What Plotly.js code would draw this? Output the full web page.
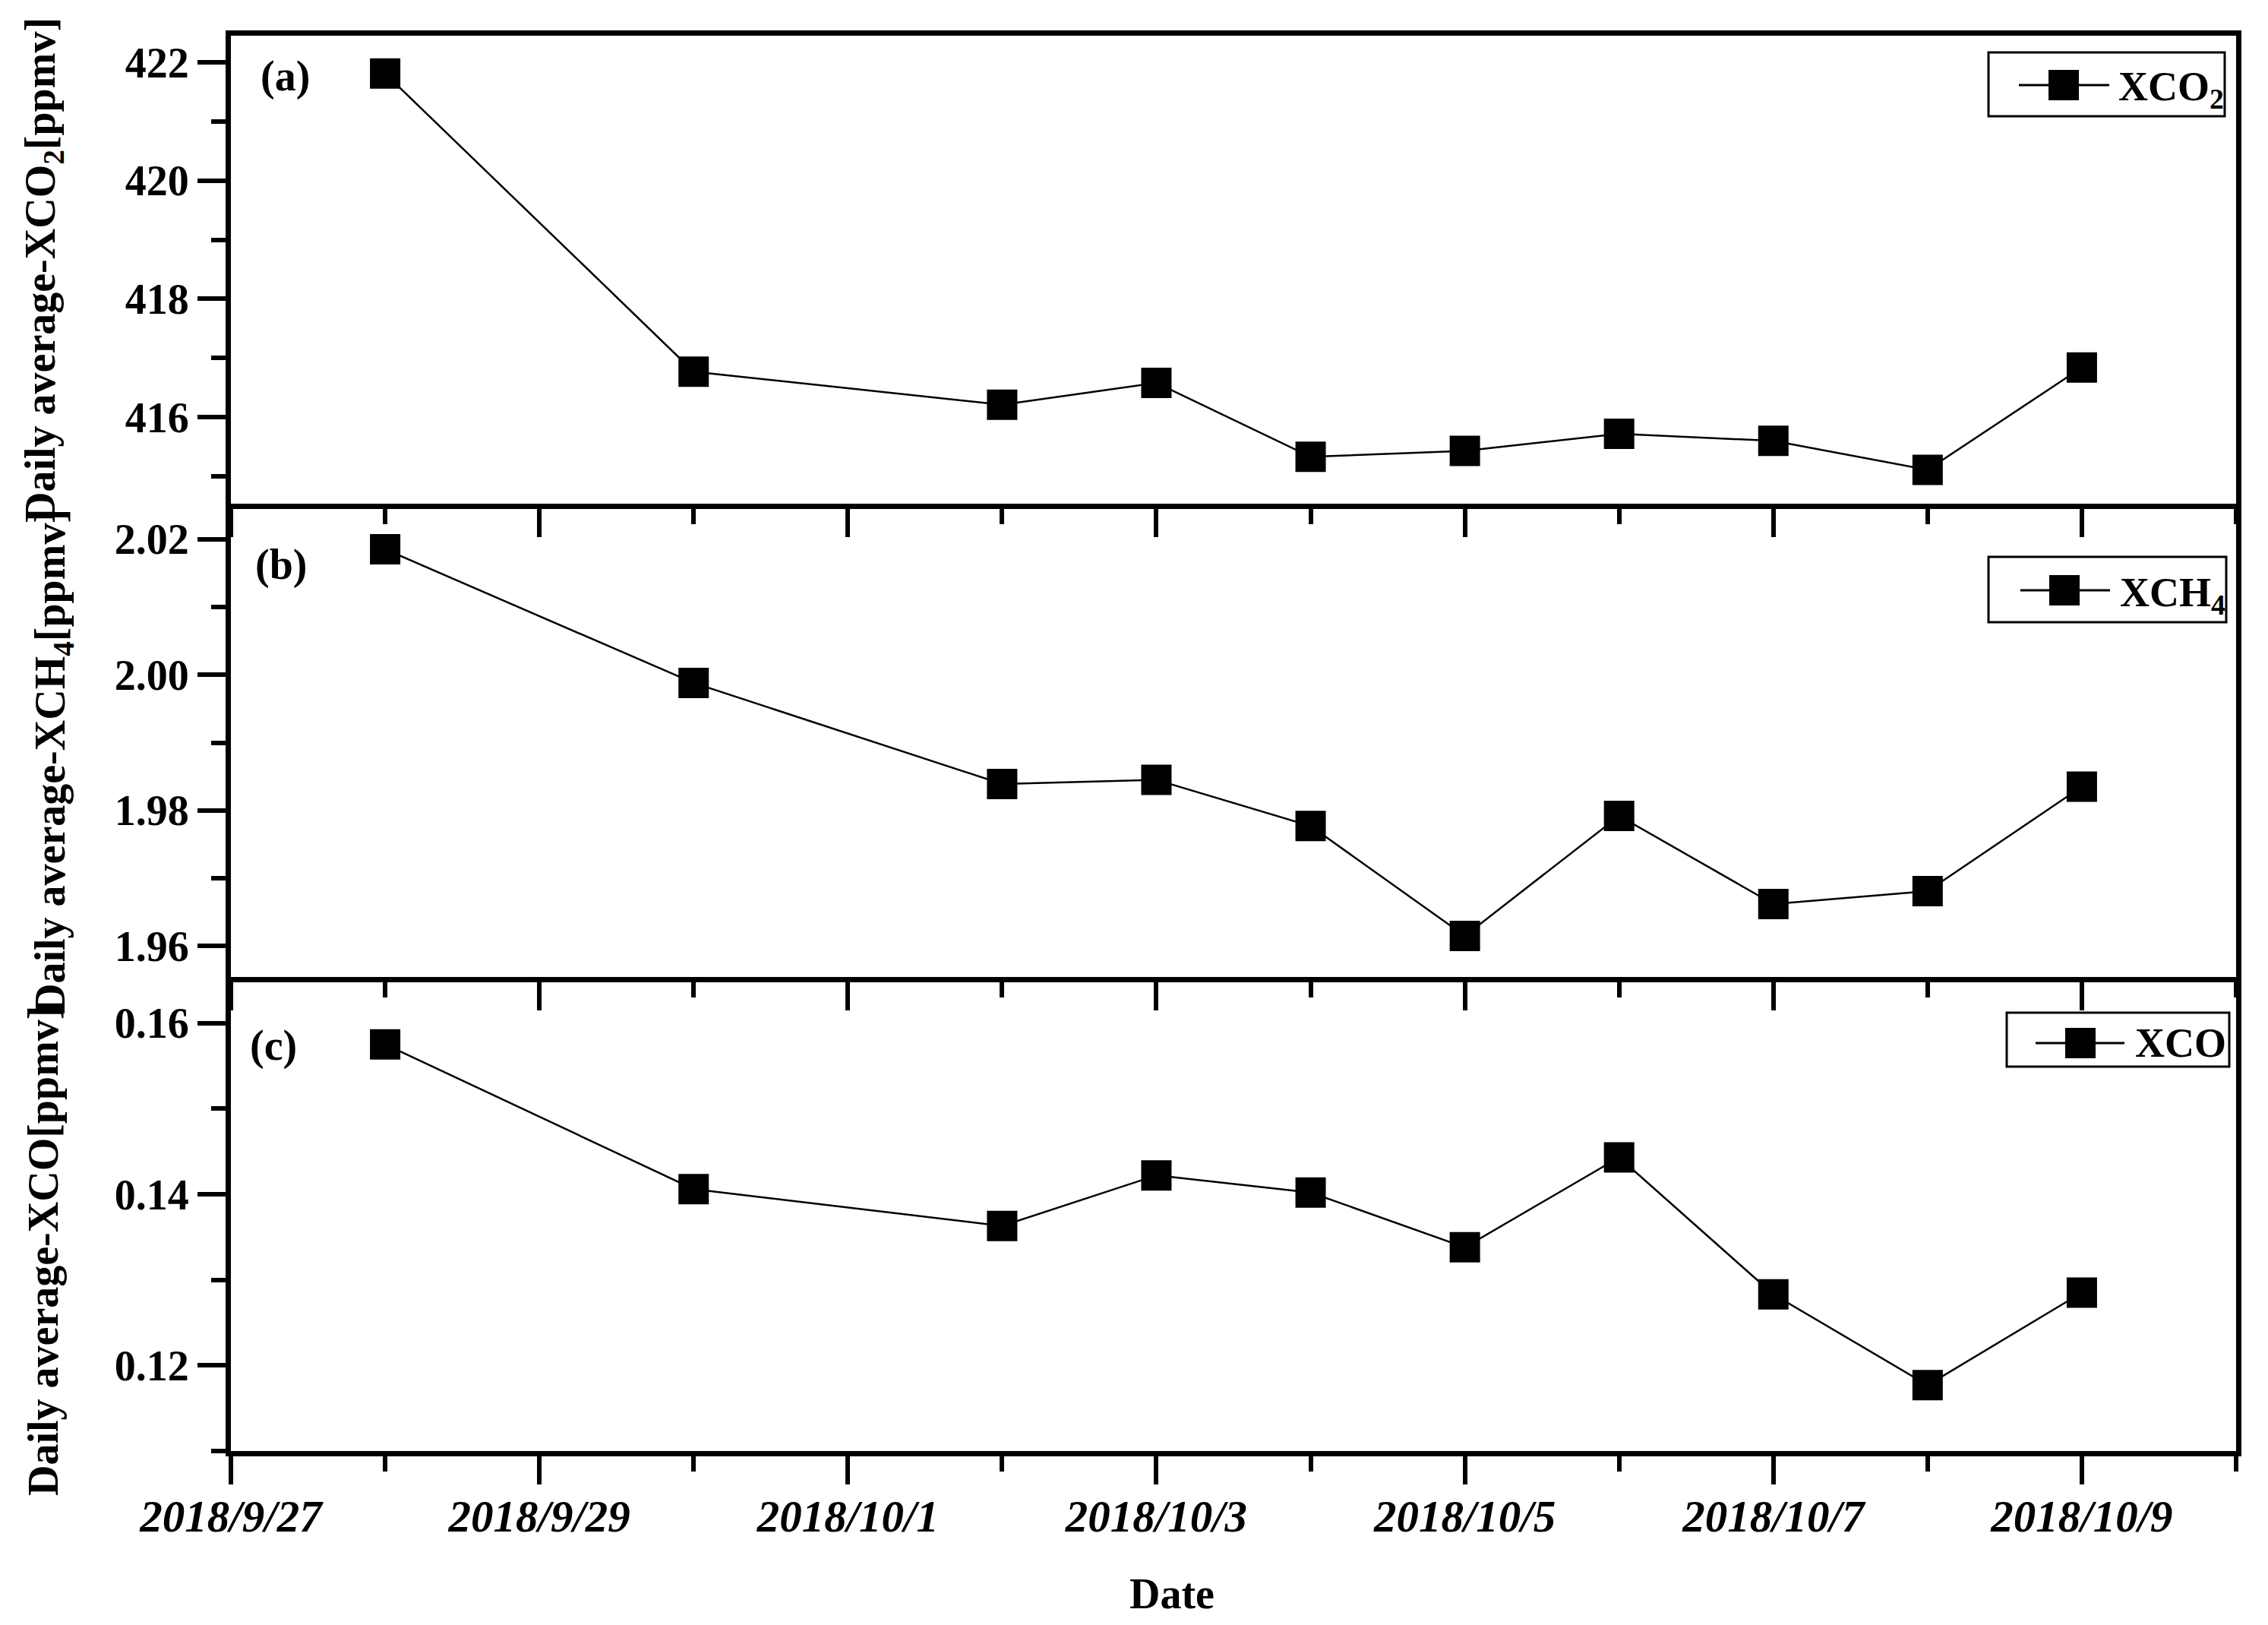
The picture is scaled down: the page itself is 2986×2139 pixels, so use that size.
<!DOCTYPE html>
<html><head><meta charset="utf-8">
<script src="https://cdn.plot.ly/plotly-3.0.1.min.js"></script>
<style>html,body{margin:0;padding:0;background:#fff;} #chart{width:2986px;height:2139px;}</style>
</head><body><div id="chart"></div>
<script>
// ---------- data ----------
const dates = ['2018-09-28','2018-09-30','2018-10-02','2018-10-03','2018-10-04','2018-10-05','2018-10-06','2018-10-07','2018-10-08','2018-10-09'];
const xco2 = [421.81, 416.77, 416.21, 416.58, 415.33, 415.43, 415.72, 415.60, 415.11, 416.84];
const xch4 = [2.0185, 1.9988, 1.9839, 1.9845, 1.9777, 1.9615, 1.9792, 1.9662, 1.9681, 1.9835];
const xco  = [0.1575, 0.1406, 0.1363, 0.1422, 0.1402, 0.1338, 0.1443, 0.1283, 0.1177, 0.1285];
const seriesNames = ['XCO<sub>2</sub>', 'XCH<sub>4</sub>', 'XCO'];
const panelLabels = ['(a)', '(b)', '(c)'];
const yTitles = ['Daily average-XCO<sub>2</sub>[ppmv]', 'Daily average-XCH<sub>4</sub>[ppmv]', 'Daily average-XCO[ppmv]'];
const xTitle = 'Date';

// ---------- layout geometry ----------
const W = 2986, H = 2139, ML = 304, MR = 42, MT = 47, MB = 229;
const PW = W - ML - MR, PH = H - MT - MB;
const px = x => (x - ML) / PW;           // pixel -> paper x
const py = y => (H - MB - y) / PH;       // pixel -> paper y
const FONT = 'Liberation Serif, Times New Roman, serif';
const DAY = 86400000;

const domains = [[py(662.5), 1], [py(1285.5), py(669.5)], [0, py(1292.5)]];
const yRanges = [[414.544, 422.45], [1.9555, 2.0245], [0.11, 0.1648]];
const yTick0 = [416, 1.96, 0.12];
const yDtick = [2, 0.02, 0.02];
const yMinor = [1, 0.01, 0.01];
const yFormat = ['d', '.2f', '.2f'];

const series = [xco2, xch4, xco];
const traces = series.map((s, i) => ({
  type: 'scatter', mode: 'lines+markers', x: dates, y: s,
  name: seriesNames[i], showlegend: false,
  xaxis: i === 0 ? 'x' : 'x' + (i + 1), yaxis: i === 0 ? 'y' : 'y' + (i + 1),
  line: {color: '#000', width: 2.5},
  marker: {symbol: 'square', size: 40, color: '#000', line: {width: 0}},
  cliponaxis: false
}));

const layout = {
  width: W, height: H, paper_bgcolor: '#fff', plot_bgcolor: '#fff',
  margin: {l: ML, r: MR, t: MT, b: MB, pad: 0},
  font: {family: FONT, color: '#000', size: 56},
  showlegend: false,
  shapes: [], annotations: []
};

for (let i = 0; i < 3; i++) {
  const xs = i === 0 ? 'xaxis' : 'xaxis' + (i + 1);
  const ys = i === 0 ? 'yaxis' : 'yaxis' + (i + 1);
  const yid = i === 0 ? 'y' : 'y' + (i + 1);
  const xid = i === 0 ? 'x' : 'x' + (i + 1);
  layout[xs] = {
    type: 'date', anchor: yid, domain: [0, 1],
    range: ['2018-09-27', '2018-10-10'], tick0: '2018-09-27', dtick: 2 * DAY,
    tickformat: '%Y/%-m/%-d', showticklabels: i === 2,
    tickfont: {family: FONT, size: 59, weight: 'bold', style: 'italic', color: '#000'},
    ticks: 'outside', ticklen: 37, tickwidth: 6, tickcolor: '#000',
    minor: {ticks: 'outside', ticklen: 20, tickwidth: 6, tickcolor: '#000', tick0: '2018-09-27', dtick: DAY, showgrid: false},
    showline: true, linewidth: 7, linecolor: '#000', mirror: true,
    showgrid: false, zeroline: false, fixedrange: true, ticklabelstandoff: -9
  };
  layout[ys] = {
    anchor: xid, domain: domains[i], range: yRanges[i],
    tick0: yTick0[i], dtick: yDtick[i], tickformat: yFormat[i],
    tickfont: {family: FONT, size: 56, weight: 'bold', color: '#000'},
    ticks: 'outside', ticklen: 37, tickwidth: 6, tickcolor: '#000',
    minor: {ticks: 'outside', ticklen: 19, tickwidth: 6, tickcolor: '#000', tick0: yTick0[i], dtick: yMinor[i], showgrid: false},
    showline: true, linewidth: 7, linecolor: '#000', mirror: true,
    showgrid: false, zeroline: false, fixedrange: true
  };
}

// y-axis titles (placed as rotated text, positions)
const yTitlePos = [[57, 356], [70, 1003], [57, 1647]];
yTitles.forEach((t, i) => {
  layout.annotations.push({text: t, xref: 'paper', yref: 'paper', x: px(yTitlePos[i][0]), y: py(yTitlePos[i][1]),
    xanchor: 'center', yanchor: 'middle', textangle: -90, showarrow: false,
    font: {family: FONT, size: 56, weight: 'bold', color: '#000'}});
});

// panel letters
const letterPos = [[375, 100], [370, 743], [360, 1376]];
panelLabels.forEach((t, i) => {
  layout.annotations.push({text: t, xref: 'paper', yref: 'paper', x: px(letterPos[i][0]), y: py(letterPos[i][1]),
    xanchor: 'center', yanchor: 'middle', showarrow: false,
    font: {family: FONT, size: 56, weight: 'bold', color: '#000'}});
});

// x title
layout.annotations.push({text: xTitle, xref: 'paper', yref: 'paper', x: px(1543), y: py(2098),
  xanchor: 'center', yanchor: 'middle', showarrow: false,
  font: {family: FONT, size: 56, weight: 'bold', color: '#000'}});

// legend boxes (drawn per panel)
const legBox = [[2618, 69, 2929, 153], [2618, 733, 2931, 819], [2642, 1333, 2935, 1404]];
const legLine = [[2658, 2777, 112], [2660, 2778, 777], [2680, 2797, 1373]];
const legMarkX = [2717, 2718, 2739];
const legTextX = [2787, 2789, 2809];
for (let i = 0; i < 3; i++) {
  const b = legBox[i];
  layout.shapes.push({type: 'rect', xref: 'paper', yref: 'paper', x0: px(b[0]), x1: px(b[2]), y0: py(b[3]), y1: py(b[1]),
    line: {color: '#000', width: 3}, fillcolor: '#fff', layer: 'above'});
  const l = legLine[i];
  layout.shapes.push({type: 'line', xref: 'paper', yref: 'paper', x0: px(l[0]), x1: px(l[1]), y0: py(l[2]), y1: py(l[2]),
    line: {color: '#000', width: 3}, layer: 'above'});
  layout.shapes.push({type: 'rect', xref: 'paper', yref: 'paper', x0: px(legMarkX[i] - 20), x1: px(legMarkX[i] + 20),
    y0: py(l[2] + 20), y1: py(l[2] - 20), line: {width: 0}, fillcolor: '#000', layer: 'above'});
  layout.annotations.push({text: seriesNames[i], xref: 'paper', yref: 'paper', x: px(legTextX[i]), y: py(l[2] + (i < 2 ? 6 : 0)),
    xanchor: 'left', yanchor: 'middle', showarrow: false,
    font: {family: FONT, size: 54, weight: 'bold', color: '#000'}});
}

Plotly.newPlot('chart', traces, layout, {displayModeBar: false, staticPlot: true});
</script>
</body></html>
